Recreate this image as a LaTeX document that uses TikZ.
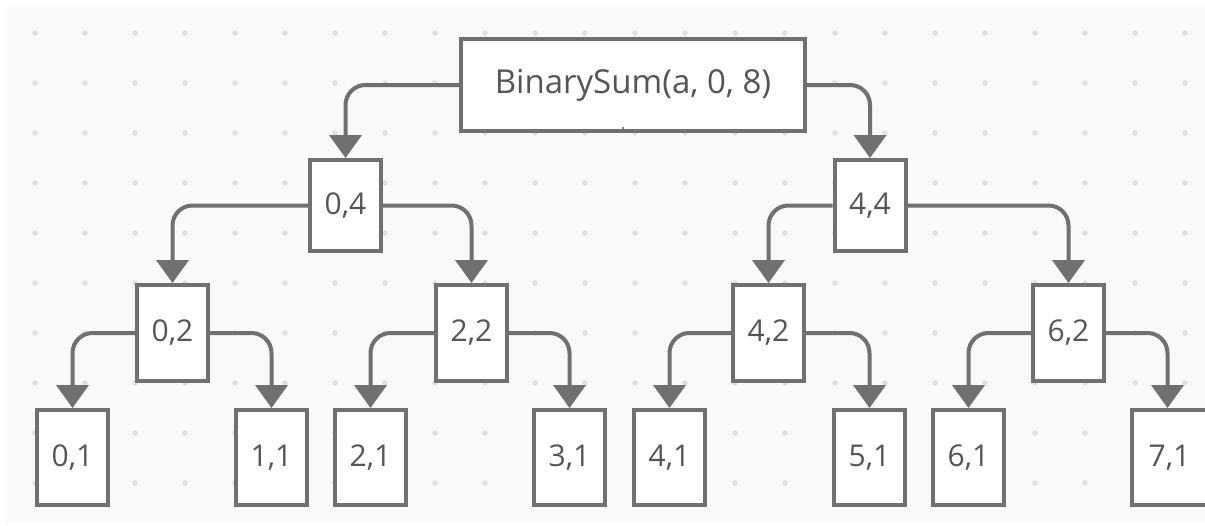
\documentclass[tikz,border=0pt]{standalone}
\usepackage{fontspec}
\setmainfont{Open Sans}
\usetikzlibrary{arrows.meta}
\definecolor{canvas}{HTML}{F8F9FA}
\definecolor{griddot}{HTML}{E0E1E3}
\definecolor{edge}{HTML}{707070}
\definecolor{ink}{HTML}{555555}
\tikzset{
  box/.style={draw=edge, line width=4pt, fill=white, inner sep=0pt,
    text=ink, font=\fontsize{30}{36}\selectfont},
  leaf/.style={box, minimum width=71pt, minimum height=95pt},
  mid/.style={box, minimum width=71pt, minimum height=96pt},
  conn/.style={draw=edge, line width=4pt, rounded corners=20pt,
    -{Triangle[width=32pt,length=23pt]}},
}
\begin{document}
\begin{tikzpicture}[x=1pt,y=-1pt]
  \useasboundingbox (0,0) rectangle (1205,525);
  \fill[white] (0,0) rectangle (1205,525);
  \fill[canvas] (7,7) rectangle (1205,523);
  % dotted grid of the canvas
  \foreach \i in {0,...,23}
    \foreach \j in {0,...,9}
      \fill[griddot] (35+50*\i, 33+50*\j) circle (2.8pt);

  % call tree
  \node[box, minimum width=344pt, minimum height=92pt,
        font=\fontsize{33}{39}\selectfont] (root) at (633,85) {BinarySum(a, 0, 8)};
  \fill[ink] (623,128) circle (1.2pt);

  \node[box, minimum width=71pt, minimum height=91pt] (n04) at (345.5,205.5) {0,4};
  \node[box, minimum width=71pt, minimum height=91pt] (n44) at (870,205.5) {4,4};

  \node[mid] (n02) at (172.5,333) {0,2};
  \node[mid] (n22) at (471.5,333) {2,2};
  \node[mid] (n42) at (768.5,333) {4,2};
  \node[mid] (n62) at (1068.5,333) {6,2};

  \node[leaf] (n01) at (72.5,457.5) {0,1};
  \node[leaf] (n11) at (271.5,457.5) {1,1};
  \node[leaf] (n21) at (370.5,457.5) {2,1};
  \node[leaf] (n31) at (569.5,457.5) {3,1};
  \node[leaf] (n41) at (669.5,457.5) {4,1};
  \node[leaf] (n51) at (869.5,457.5) {5,1};
  \node[leaf] (n61) at (968.5,457.5) {6,1};
  \node[leaf, minimum width=76pt] (n71) at (1169.5,457.5) {7,1};

  % recursive calls
  \draw[conn] (root.west) -| (n04.north);
  \draw[conn] (root.east) -| (n44.north);

  \draw[conn] (n04.west) -| (n02.north);
  \draw[conn] (n04.east) -| (n22.north);
  \draw[conn] (n44.west) -| (n42.north);
  \draw[conn] (n44.east) -| (n62.north);

  \draw[conn] (n02.west) -| (n01.north);
  \draw[conn] (n02.east) -| (n11.north);
  \draw[conn] (n22.west) -| (n21.north);
  \draw[conn] (n22.east) -| (n31.north);
  \draw[conn] (n42.west) -| (n41.north);
  \draw[conn] (n42.east) -| (n51.north);
  \draw[conn] (n62.west) -| (n61.north);
  \draw[conn] (n62.east) -| ([xshift=-2pt]n71.north);
\end{tikzpicture}
\end{document}
